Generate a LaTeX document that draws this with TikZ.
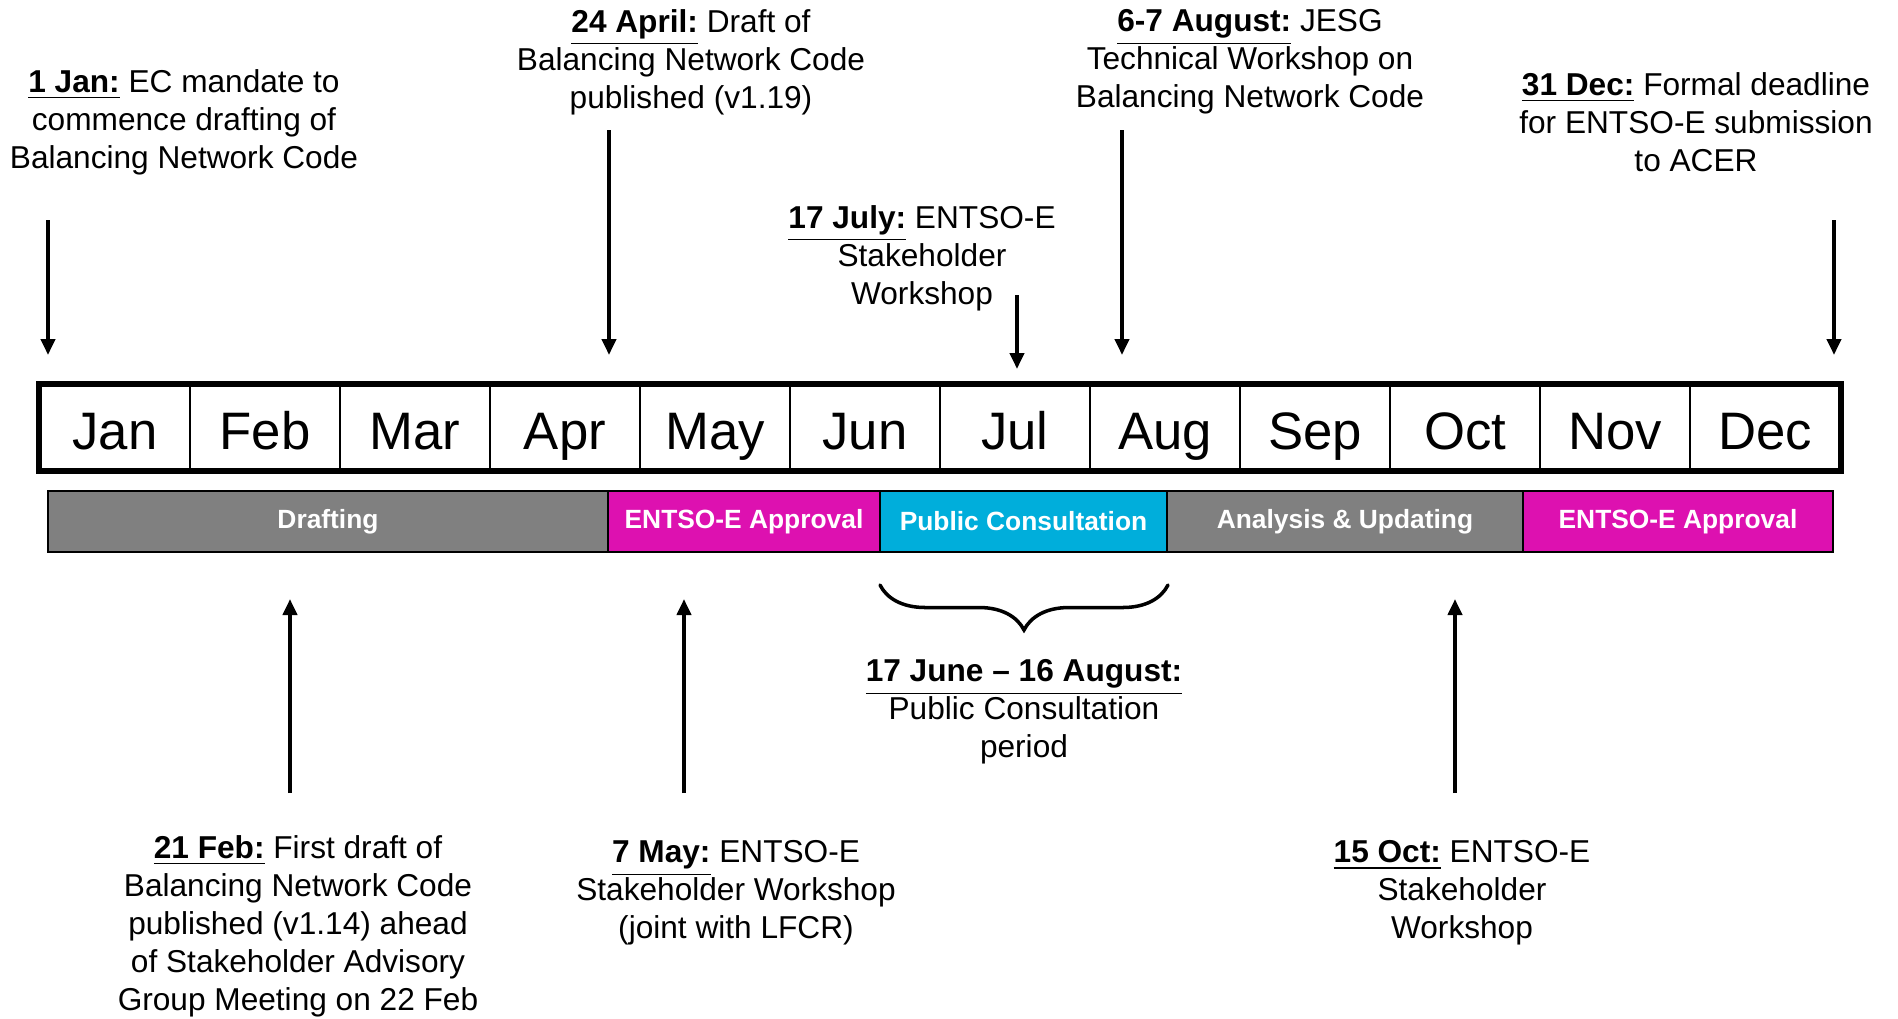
\documentclass[tikz,border=0pt]{standalone}
\usepackage{fontspec}
\setmainfont{Liberation Sans}
\usetikzlibrary{arrows.meta}
\usetikzlibrary{decorations.pathreplacing}
\definecolor{phgray}{RGB}{128,128,128}
\definecolor{phmag}{RGB}{221,17,176}
\definecolor{phcyan}{RGB}{0,174,219}
\tikzset{
  month/.style={draw, line width=.6pt, minimum width=1.5cm, minimum height=.85cm,
    text height=.44cm, text depth=0cm, inner sep=0pt, font=\fontsize{15}{18}\selectfont},
  phase/.style={draw, line width=.6pt, minimum height=.61cm, inner sep=0pt,
    text=white, font=\fontsize{7.5}{9}\selectfont\bfseries},
  note/.style={align=center, inner sep=0pt, font=\fontsize{9}{10.8}\selectfont},
  evt/.style={line width=1.1pt, -{Triangle[width=.14cm,length=.16cm]}}
}
\newcommand{\dte}[1]{\underline{\textbf{#1}}}

\begin{document}
\begin{tikzpicture}
\useasboundingbox (0,0) rectangle (18.98,-10.18);
% The month bar
\foreach \m [count=\i from 0] in {Jan,Feb,Mar,Apr,May,Jun,Jul,Aug,Sep,Oct,Nov,Dec}
  \node[month] (m\i) at (1.15+1.5*\i,-4.275) {\m};
\draw[line width=1.5pt] (m0.north west) rectangle (m11.south east);
% The phases
\node[phase, fill=phgray, minimum width=5.6cm] (draft) at (3.28,-5.215) {Drafting};
\node[phase, fill=phmag, minimum width=2.72cm] (appr1) at (7.44,-5.215) {ENTSO-E Approval};
\node[phase, fill=phcyan, minimum width=2.87cm] (cons) at (10.235,-5.215) {Public Consultation};
\node[phase, fill=phgray, minimum width=3.56cm] (anal) at (13.45,-5.215) {Analysis \& Updating};
\node[phase, fill=phmag, minimum width=3.10cm] (appr2) at (16.78,-5.215) {ENTSO-E Approval};
% Events above
\node[note] (jan) at (1.84,-1.22) {\dte{1 Jan:} EC mandate to\\commence drafting of\\Balancing Network Code};
\node[note] (apr) at (6.91,-0.62) {\dte{24 April:} Draft of\\Balancing Network Code\\published (v1.19)};
\node[note] (jul) at (9.22,-2.58) {\dte{17 July:} ENTSO-E\\Stakeholder\\Workshop};
\node[note] (aug) at (12.50,-0.62) {\dte{6-7 August:} JESG\\Technical Workshop on\\Balancing Network Code};
\node[note] (dec) at (16.96,-1.22) {\dte{31 Dec:} Formal deadline\\for ENTSO-E submission\\to ACER};
\coordinate (jan1) at (0.48,-2.20);  \coordinate (jan2) at (0.48,-3.55);
\coordinate (apr1) at (6.09,-1.30);  \coordinate (apr2) at (6.09,-3.55);
\coordinate (jul1) at (10.17,-2.95); \coordinate (jul2) at (10.17,-3.69);
\coordinate (aug1) at (11.22,-1.30); \coordinate (aug2) at (11.22,-3.55);
\coordinate (dec1) at (18.34,-2.20); \coordinate (dec2) at (18.34,-3.55);
\draw[evt] (jan1) -- (jan2);
\draw[evt] (apr1) -- (apr2);
\draw[evt] (jul1) -- (jul2);
\draw[evt] (aug1) -- (aug2);
\draw[evt] (dec1) -- (dec2);
% Consultation period
\coordinate (br1) at (8.80,-5.85);
\coordinate (br2) at (11.68,-5.85);
\draw[line width=1pt, line cap=round, decorate, decoration={brace, mirror, amplitude=.45cm}] (br1) -- (br2);
\node[note] (per) at (10.24,-7.12) {\dte{17 June -- 16 August:}\\Public Consultation\\period};
% Events below
\node[note] (feb) at (2.98,-9.26) {\dte{21 Feb:} First draft of\\Balancing Network Code\\published (v1.14) ahead\\of Stakeholder Advisory\\Group Meeting on 22 Feb};
\node[note] (may) at (7.36,-8.93) {\dte{7 May:} ENTSO-E\\Stakeholder Workshop\\(joint with LFCR)};
\node[note] (oct) at (14.62,-8.93) {\dte{15 Oct:} ENTSO-E\\Stakeholder\\Workshop};
\coordinate (feb1) at (2.90,-7.93);  \coordinate (feb2) at (2.90,-5.99);
\coordinate (may1) at (6.84,-7.93);  \coordinate (may2) at (6.84,-5.99);
\coordinate (oct1) at (14.55,-7.93); \coordinate (oct2) at (14.55,-5.99);
\draw[evt] (feb1) -- (feb2);
\draw[evt] (may1) -- (may2);
\draw[evt] (oct1) -- (oct2);
\end{tikzpicture}
\end{document}
